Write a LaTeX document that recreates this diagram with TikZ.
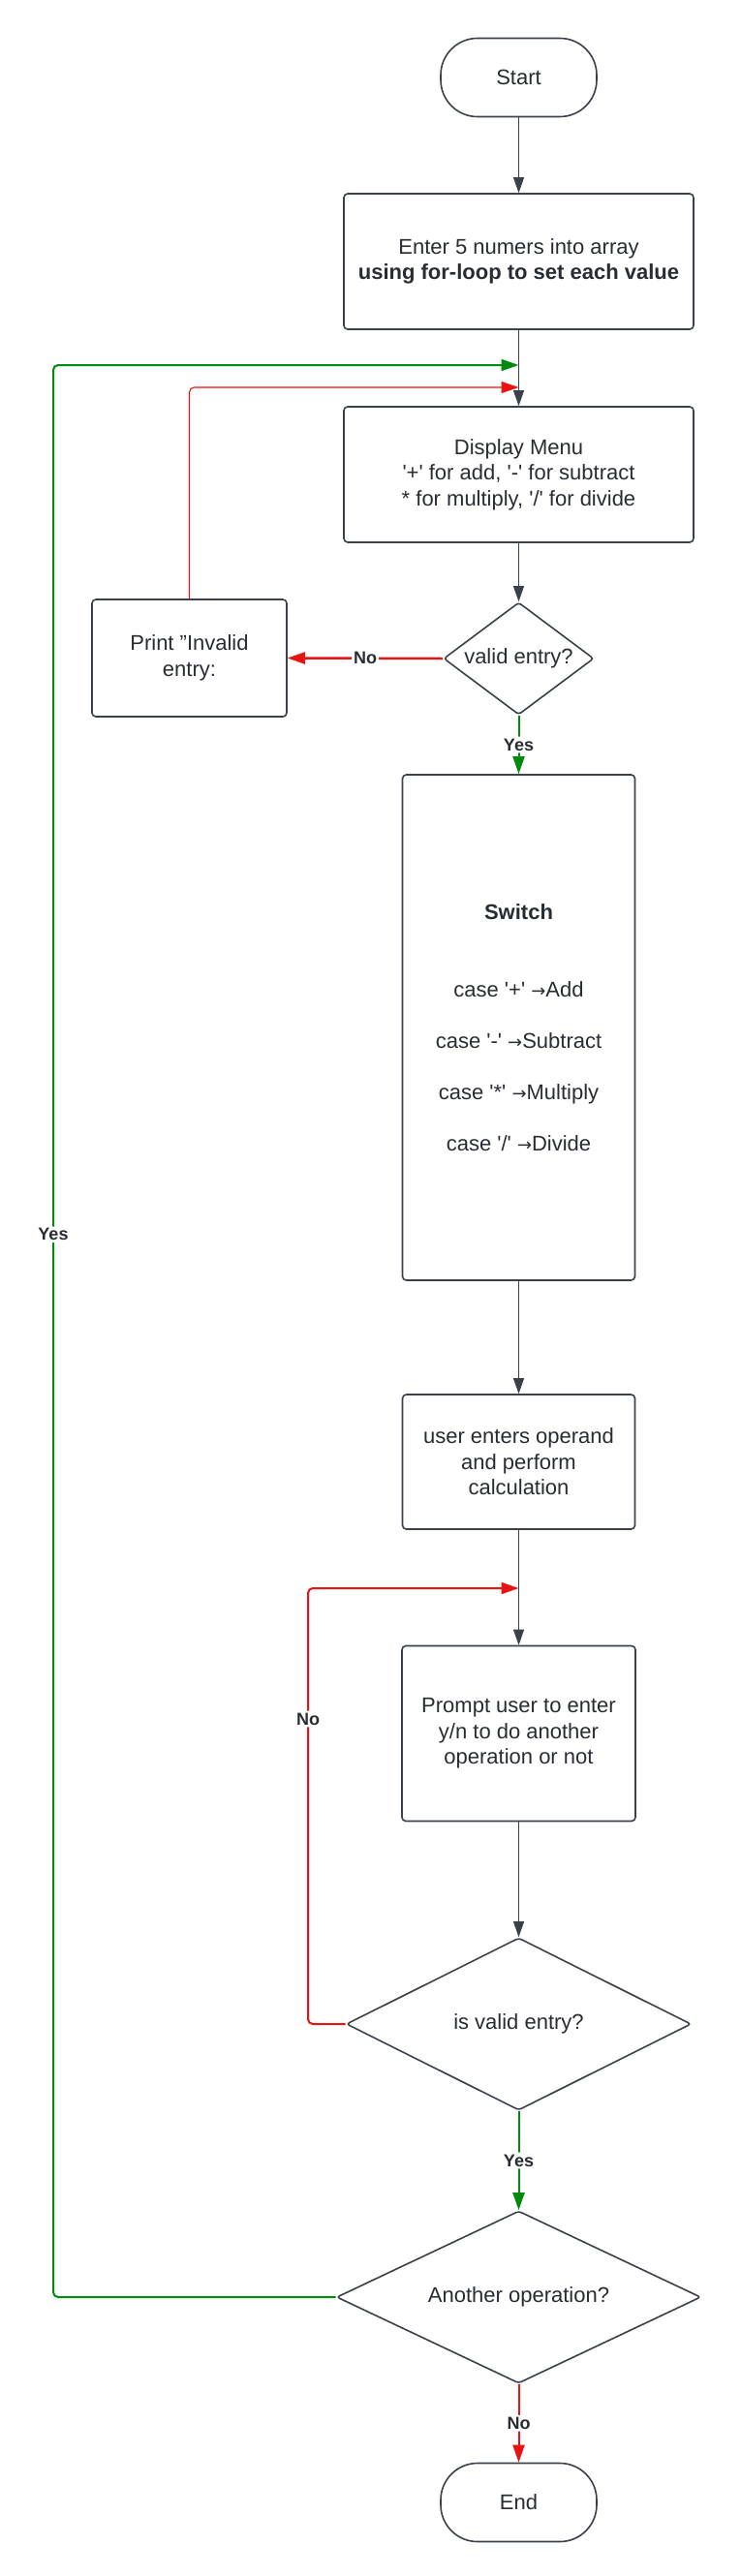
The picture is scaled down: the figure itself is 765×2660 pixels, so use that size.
\documentclass[tikz,border=0pt]{standalone}
\usepackage{fontspec}
\setmainfont{Liberation Sans}
\newfontfamily\symfont{DejaVu Sans}
\usetikzlibrary{shapes.geometric,arrows.meta}
\definecolor{txt}{HTML}{282C33}
\definecolor{ln}{HTML}{3A414A}
\definecolor{gr}{HTML}{008A0E}
\definecolor{rd}{HTML}{E81313}
\newcommand\sq{\textquotesingle}
\newcommand\arr{{\fontsize{18}{18}\selectfont\symfont →}}
\begin{document}
\begin{tikzpicture}[x=1pt,y=-1pt,
  font=\fontsize{22}{26.5}\selectfont, text=txt,
  box/.style={draw=ln, line width=1.6pt, rounded corners=4pt, align=center, inner sep=0pt},
  term/.style={draw=ln, line width=1.6pt, rounded corners=38pt, minimum width=161pt, minimum height=81pt, inner sep=0pt},
  dia/.style={draw=ln, line width=1.6pt, diamond, rounded corners=3pt, inner sep=0pt},
  flow/.style={draw=ln, line width=0.9pt, -{Triangle[length=16pt,width=11pt]}},
  gflow/.style={draw=gr, line width=2pt, rounded corners=5pt, -{Triangle[length=18pt,width=12pt]}},
  rflow/.style={draw=rd, line width=2pt, rounded corners=5pt, -{Triangle[length=18pt,width=12pt]}},
  rthin/.style={draw=rd, line width=1.1pt, rounded corners=5pt, -{Triangle[length=18pt,width=12pt]}},
  rthick/.style={draw=rd, line width=2.5pt, -{Triangle[length=18pt,width=12pt]}},
  lbl/.style={fill=white, font=\fontsize{18}{21}\selectfont\bfseries, text=txt, inner sep=2pt}]
\useasboundingbox (0,0) rectangle (765,2660);

\node[term] (start) at (535.5,80) {Start};
\node[box, minimum width=361pt, minimum height=140pt] (enter) at (535.5,270)
  {Enter 5 numers into array\\\textbf{using for-loop to set each value}};
\node[box, minimum width=361pt, minimum height=140pt] (display) at (535.5,490)
  {Display Menu\\\sq+\sq{} for add, \sq-\sq{} for subtract\\* for multiply, \sq/\sq{} for divide};
\node[dia, minimum width=155pt, minimum height=116pt, label=center:{valid entry?}] (valid) at (535.5,680) {};
\node[box, minimum width=201pt, minimum height=121pt] (print) at (195.5,679.5)
  {Print "Invalid\\entry:};
\node[box, minimum width=240pt, minimum height=522pt] (switch) at (535.5,1061)
  {\textbf{Switch}\\[54pt]case \sq+\sq\ \arr Add\\[26.5pt]case \sq-\sq\ \arr Subtract\\[26.5pt]case \sq*\sq\ \arr Multiply\\[26.5pt]case \sq/\sq\ \arr Divide};
\node[box, minimum width=240pt, minimum height=139pt] (user) at (535.5,1509.5)
  {user enters operand\\and perform\\calculation};
\node[box, minimum width=241pt, minimum height=181pt] (prompt) at (535.5,1790)
  {Prompt user to enter\\y/n to do another\\operation or not};
\node[dia, minimum width=356pt, minimum height=178pt, label=center:{is valid entry?}] (isvalid) at (535.5,2090) {};
\node[dia, minimum width=376pt, minimum height=178pt, label=center:{Another operation?}] (another) at (535.5,2372) {};
\node[term] (end) at (535.5,2584) {End};

\coordinate (gl) at (55,377);
\coordinate (gt) at (535.5,377);
\coordinate (rt1) at (535.5,400);
\coordinate (rl2) at (318,1640);
\coordinate (rt2) at (535.5,1640);

\draw[flow] (start) -- (enter);
\draw[flow] (enter) -- (display);
\draw[flow] (display) -- (valid);
\draw[rthick] (valid.west) -- node[lbl]{No} (print.east);
\draw[gflow] (valid.south) -- node[lbl]{Yes} (switch.north);
\draw[rthin] (print.north) |- (rt1);
\draw[flow] (switch) -- (user);
\draw[flow] (user) -- (prompt);
\draw[flow] (prompt) -- (isvalid);
\draw[rflow] (isvalid.west) -| node[lbl, pos=0.85]{No} (rl2) -- (rt2);
\draw[gflow] (isvalid.south) -- node[lbl]{Yes} (another.north);
\draw[gflow] (another.west) -| node[lbl, pos=0.775]{Yes} (gl) -- (gt);
\draw[rflow] (another.south) -- node[lbl]{No} (end.north);
\end{tikzpicture}
\end{document}
